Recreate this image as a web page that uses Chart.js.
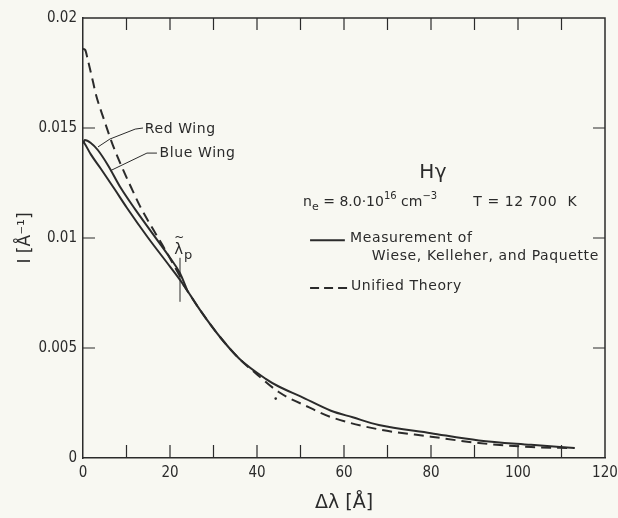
<!DOCTYPE html>
<html>
<head>
<meta charset="utf-8">
<script src="https://cdn.jsdelivr.net/npm/chart.js@4/dist/chart.umd.min.js"></script>
<style>
  html, body { margin: 0; padding: 0; background: #f8f8f2; }
  #wrap { width: 618px; height: 518px; }
</style>
</head>
<body>
<div id="wrap"><canvas id="c" width="618" height="518"></canvas></div>
<script>
// ---- Data (Δλ in Å, I in Å^-1) ----
const blueWingX = [0, 0.3, 1.8, 4.1, 7.4, 10, 15, 20, 23, 27, 31.5, 36, 42, 45, 50, 57, 62, 68, 80, 91, 103, 113];
const blueWingY = [0.0144, 0.01432, 0.0138, 0.01315, 0.01218, 0.0114, 0.0100, 0.0087, 0.0079, 0.0067, 0.0055, 0.0045, 0.0036, 0.00325, 0.0028, 0.00215, 0.00185, 0.0015, 0.00113, 0.0008, 0.0006, 0.00045];
const redWingX = [0, 0.4, 1.8, 3.4, 5.7, 8.7, 12, 16, 20, 22.3, 24];
const redWingY = [0.0143, 0.01445, 0.01432, 0.0140, 0.01332, 0.01227, 0.0113, 0.0102, 0.0091, 0.0084, 0.0076];
const theoryCenterX = [0, 0.5, 1.1, 2.3, 3.0, 4.8, 6.9, 9, 11.3, 13.1, 15.5, 18.2, 20.5, 23];
const theoryCenterY = [0.0186, 0.01855, 0.0181, 0.0171, 0.0165, 0.0154, 0.0142, 0.0132, 0.0122, 0.01145, 0.0106, 0.0097, 0.0089, 0.0080];
const theoryWingX = [23, 27, 31.5, 36, 40, 45, 52, 57, 68, 80, 91, 103, 113];
const theoryWingY = [0.0079, 0.0067, 0.0055, 0.0045, 0.0038, 0.0030, 0.0023, 0.00186, 0.0013, 0.00097, 0.00068, 0.0005, 0.00045];
const theoryStubX = [44.3];
const theoryStubY = [0.0027];
const xTickLabels = ['0', '20', '40', '60', '80', '100', '120'];
const yTickLabels = ['0', '0.005', '0.01', '0.015', '0.02'];
const lambdaP = 22.3;

const pts = (xs, ys) => xs.map((x, i) => ({ x: x, y: ys[i] }));
const INK = '#2b2b2b';
const FONT = "'DejaVu Sans Condensed', 'Liberation Sans Narrow', 'DejaVu Sans', sans-serif";
const AFONT = "'DejaVu Sans', sans-serif";

function runs(ctx, x, y, parts) {
  // parts: [text, size, dy]
  let cx = x;
  parts.forEach(p => {
    ctx.font = p[1] + 'px ' + AFONT;
    ctx.fillText(p[0], cx, y + (p[2] || 0));
    cx += ctx.measureText(p[0]).width;
  });
}

const decor = {
  id: 'decor',
  afterDraw(chart) {
    const ctx = chart.ctx, a = chart.chartArea;
    const xs = chart.scales.x, ys = chart.scales.y;
    const X = v => xs.getPixelForValue(v), Y = v => ys.getPixelForValue(v);
    ctx.save();
    ctx.strokeStyle = INK; ctx.fillStyle = INK; ctx.lineWidth = 1.5;
    // frame (top, right)
    ctx.beginPath();
    ctx.moveTo(a.left, a.top); ctx.lineTo(a.right, a.top); ctx.lineTo(a.right, a.bottom);
    ctx.stroke();
    // inward ticks
    ctx.lineWidth = 1.2;
    ctx.beginPath();
    for (let v = 10; v < 120; v += 10) {
      ctx.moveTo(X(v), a.bottom); ctx.lineTo(X(v), a.bottom - 13);
      ctx.moveTo(X(v), a.top); ctx.lineTo(X(v), a.top + 12);
    }
    for (let v = 0.005; v < 0.0199; v += 0.005) {
      ctx.moveTo(a.left, Y(v)); ctx.lineTo(a.left + 12, Y(v));
      ctx.moveTo(a.right, Y(v)); ctx.lineTo(a.right - 12, Y(v));
    }
    ctx.stroke();

    // λp marker
    ctx.lineWidth = 1;
    ctx.beginPath();
    ctx.moveTo(X(lambdaP), Y(0.0091)); ctx.lineTo(X(lambdaP), Y(0.0071));
    ctx.stroke();
    ctx.textBaseline = 'middle'; ctx.textAlign = 'left';
    ctx.font = '15px ' + AFONT;
    ctx.fillText('λ', X(21.0), Y(0.00945));
    ctx.font = '12px ' + AFONT;
    ctx.fillText('~', X(21.0), Y(0.0100));
    ctx.font = '13px ' + AFONT;
    ctx.fillText('p', X(23.2), Y(0.0092));

    // leader lines
    ctx.lineWidth = 1;
    ctx.beginPath();
    ctx.moveTo(X(13.8), Y(0.0150)); ctx.lineTo(X(12.0), Y(0.01495));
    ctx.lineTo(X(6.2), Y(0.0145)); ctx.lineTo(X(3.45), Y(0.01414));
    ctx.moveTo(X(17.0), Y(0.01386)); ctx.lineTo(X(14.7), Y(0.01386));
    ctx.lineTo(X(6.2), Y(0.01305));
    ctx.stroke();
    ctx.letterSpacing = '0.6px';
    ctx.font = '14px ' + AFONT;
    ctx.fillText('Red Wing', X(14.2), Y(0.01495));
    ctx.fillText('Blue Wing', X(17.6), Y(0.01386));

    // Title block
    ctx.textAlign = 'center';
    ctx.font = '20px ' + AFONT;
    ctx.fillText('Hγ', X(80.5), Y(0.01295));
    ctx.textAlign = 'left';
    ctx.letterSpacing = '0px';
    runs(ctx, X(50.6), Y(0.0116), [['n', 14, 0], ['e', 11, 4], [' = 8.0·10', 14, 0], ['16', 10, -6], [' cm', 14, 0], ['−3', 10, -6]]);
    ctx.letterSpacing = '0.6px';
    runs(ctx, X(89.7), Y(0.0116), [['T = 12 700  K', 14, 0]]);

    // legend
    ctx.letterSpacing = '0px';
    ctx.lineWidth = 2;
    ctx.beginPath();
    ctx.moveTo(X(52.2), Y(0.0099)); ctx.lineTo(X(60.2), Y(0.0099));
    ctx.stroke();
    ctx.setLineDash([9, 5]);
    ctx.beginPath();
    ctx.moveTo(X(52.2), Y(0.00773)); ctx.lineTo(X(60.8), Y(0.00773));
    ctx.stroke();
    ctx.setLineDash([]);
    ctx.letterSpacing = '0.6px';
    ctx.font = '14px ' + AFONT;
    ctx.fillText('Measurement of', X(61.4), Y(0.0100));
    ctx.fillText('Wiese, Kelleher, and Paquette', X(66.4), Y(0.00918));
    ctx.fillText('Unified Theory', X(61.6), Y(0.00778));
    ctx.restore();
  }
};

const lineDs = (data, dash) => ({
  data: data, borderColor: INK, borderWidth: 2, pointRadius: 0,
  cubicInterpolationMode: 'monotone', fill: false, borderDash: dash || []
});

new Chart(document.getElementById('c'), {
  type: 'line',
  data: {
    datasets: [
      lineDs(pts(blueWingX, blueWingY)),
      lineDs(pts(redWingX, redWingY)),
      lineDs(pts(theoryCenterX, theoryCenterY), [10, 6]),
      lineDs(pts(theoryWingX, theoryWingY), [10, 6]),
      { data: pts(theoryStubX, theoryStubY), showLine: false, pointRadius: 1.3, pointBackgroundColor: INK, pointBorderWidth: 0 }
    ]
  },
  options: {
    responsive: false, animation: false,
    layout: { padding: { left: 0, top: 18, right: 13, bottom: 0 } },
    plugins: { legend: { display: false }, tooltip: { enabled: false } },
    scales: {
      x: {
        type: 'linear', min: 0, max: 120,
        grid: { display: false, drawTicks: false },
        border: { display: true, color: INK, width: 1.5 },
        ticks: {
          stepSize: 20, autoSkip: false, maxRotation: 0, padding: 6,
          color: INK, font: { family: FONT, size: 15 },
          callback: (v) => xTickLabels[Math.round(v / 20)] ?? ''
        },
        title: { display: true, text: 'Δλ [Å]', color: INK, font: { family: AFONT, size: 19 }, padding: { top: 4 } },
        afterFit: s => { s.height = 60; s.paddingLeft = 0; s.paddingRight = 0; }
      },
      y: {
        type: 'linear', min: 0, max: 0.02,
        grid: { display: false, drawTicks: false },
        border: { display: true, color: INK, width: 1.5 },
        ticks: {
          stepSize: 0.005, autoSkip: false, padding: 6,
          color: INK, font: { family: FONT, size: 15 },
          callback: (v) => yTickLabels[Math.round(v / 0.005)] ?? ''
        },
        title: { display: true, text: 'I [Å⁻¹]', color: INK, font: { family: AFONT, size: 17 }, padding: { top: 15, bottom: 4 } },
        afterFit: s => { s.width = 83; s.paddingTop = 0; s.paddingBottom = 0; }
      }
    }
  },
  plugins: [decor]
});
</script>
</body>
</html>
